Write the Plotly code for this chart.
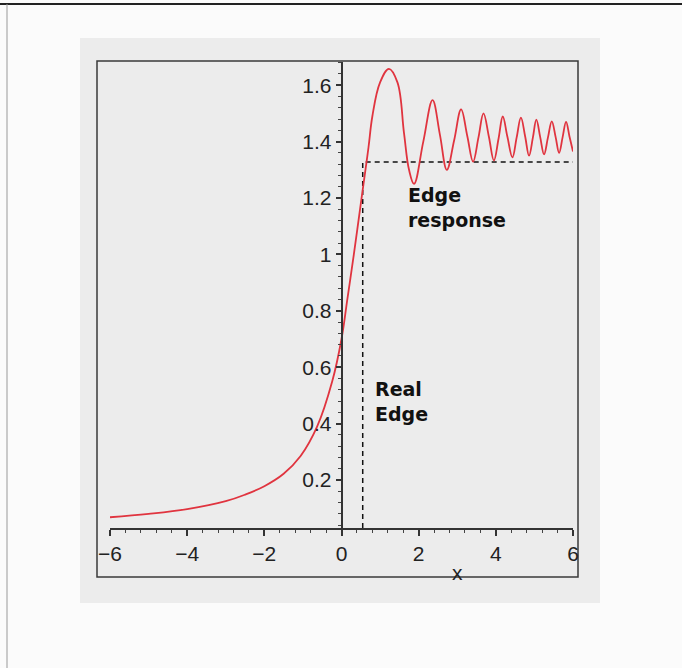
import plotly.graph_objects as go

# Edge response curve
curve_x = [-6.0, -5.0, -4.0, -3.0, -2.5, -2.0, -1.5, -1.06, -0.63, -0.24, 0.0, 0.15, 0.32,
           0.52, 0.70, 0.80, 1.0, 1.23, 1.45, 1.62, 1.75, 1.88, 2.12, 2.36, 2.55, 2.73, 2.92,
           3.10, 3.26, 3.41, 3.55, 3.68, 3.82, 3.95, 4.07, 4.18, 4.30, 4.43, 4.54, 4.65, 4.76,
           4.86, 4.96, 5.05, 5.15, 5.25, 5.35, 5.45, 5.55, 5.64, 5.73, 5.82, 5.91, 6.0]
curve_y = [0.068, 0.080, 0.097, 0.125, 0.148, 0.178, 0.222, 0.285, 0.39, 0.55, 0.70, 0.84, 1.0,
           1.2, 1.38, 1.49, 1.61, 1.658, 1.61, 1.43, 1.30, 1.25, 1.40, 1.547, 1.425, 1.30, 1.405,
           1.514, 1.42, 1.329, 1.415, 1.50, 1.417, 1.333, 1.41, 1.489, 1.417, 1.344, 1.415, 1.485, 1.418,
           1.35, 1.414, 1.478, 1.416, 1.355, 1.414, 1.472, 1.416, 1.36, 1.415, 1.47, 1.417, 1.365]

# Ideal (real) edge, dashed
edge_x = [0.55, 0.55, 6.0]
edge_y = [0.03, 1.328, 1.328]

x_ticks = [-6, -4, -2, 0, 2, 4, 6]
y_ticks = [0.2, 0.4, 0.6, 0.8, 1.0, 1.2, 1.4, 1.6]
x_range = [-6, 6]
y_range = [0.0298, 1.6823]

W, H = 682, 668
L, R, T, B = 110, 109, 62, 140
pw, ph = W - L - R, H - T - B

def px(p):
    return (p - L) / pw

def py(q):
    return (H - B - q) / ph

fig = go.Figure()
fig.add_trace(go.Scatter(x=edge_x, y=edge_y, mode="lines",
                         line=dict(color="#111111", width=1.5, dash="5px,4px"),
                         hoverinfo="skip"))
fig.add_trace(go.Scatter(x=curve_x, y=curve_y, mode="lines",
                         line=dict(color="#e0343f", width=1.8, shape="spline", smoothing=1.1),
                         hoverinfo="skip"))

tickfont = dict(family="Liberation Sans, Arial, sans-serif", size=21, color="#222222")

fig.update_layout(
    width=W, height=H,
    margin=dict(l=L, r=R, t=T, b=B, pad=0),
    paper_bgcolor="#fbfbfb",
    plot_bgcolor="rgba(0,0,0,0)",
    showlegend=False,
    xaxis=dict(range=x_range, tickvals=x_ticks, showgrid=False, zeroline=False,
               showline=True, linecolor="#333333", linewidth=1.5,
               ticks="outside", ticklen=6, tickwidth=1.5, tickcolor="#333333",
               tickfont=tickfont,
               minor=dict(dtick=0.4, tick0=-6, ticks="outside", ticklen=3,
                          tickwidth=1.2, tickcolor="#444444", showgrid=False)),
    yaxis=dict(range=y_range, tickvals=y_ticks, showgrid=False, zeroline=False,
               anchor="free", position=0.5,
               showline=True, linecolor="#333333", linewidth=1.5,
               ticks="outside", ticklen=5, tickwidth=1.5, tickcolor="#333333",
               tickfont=tickfont,
               minor=dict(dtick=0.04, tick0=0, ticks="outside", ticklen=3,
                          tickwidth=1.2, tickcolor="#444444", showgrid=False)),
    shapes=[
        dict(type="rect", xref="paper", yref="paper", x0=px(80), x1=px(600), y0=py(603), y1=py(38),
             fillcolor="#ececec", line=dict(width=0), layer="below"),
        dict(type="rect", xref="paper", yref="paper", x0=px(97), x1=px(578), y0=py(577), y1=py(61),
             fillcolor="rgba(0,0,0,0)", line=dict(color="#3a3a3a", width=1.5), layer="below"),
        dict(type="line", xref="paper", yref="paper", x0=px(0), x1=px(682), y0=py(4), y1=py(4),
             line=dict(color="#222222", width=2)),
        dict(type="line", xref="paper", yref="paper", x0=px(7), x1=px(7), y0=py(4), y1=py(668),
             line=dict(color="#999999", width=1)),
    ],
    annotations=[
        dict(x=3.0, y=py(572), xref="x", yref="paper", text="x", showarrow=False,
             font=dict(family="Liberation Sans, Arial, sans-serif", size=21, color="#222222"),
             xanchor="center", yanchor="middle"),
        dict(x=1.68, y=1.165, xref="x", yref="y", text="<b>Edge<br>response</b>", showarrow=False,
             font=dict(family="DejaVu Sans", size=19, color="#111111"),
             xanchor="left", yanchor="middle", align="left"),
        dict(x=0.82, y=0.48, xref="x", yref="y", text="<b>Real<br>Edge</b>", showarrow=False,
             font=dict(family="DejaVu Sans", size=19, color="#111111"),
             xanchor="left", yanchor="middle", align="left"),
    ],
)

fig.write_html("out.html")
